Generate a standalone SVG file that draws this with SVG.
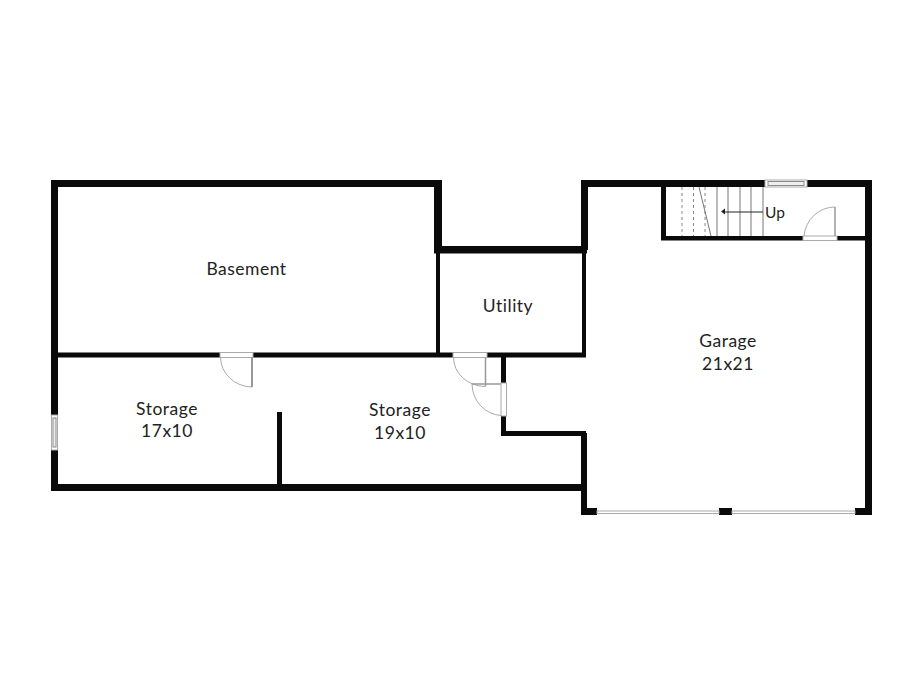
<svg xmlns="http://www.w3.org/2000/svg" width="920" height="700" viewBox="0 0 920 700">
<style>
.w{fill:#0a0a0a}
.l{font:17.500px Lato,"Liberation Sans",sans-serif;letter-spacing:.5px;fill:#222;text-anchor:middle}
.d{fill:none;stroke:#aaa;stroke-width:1}
.f{fill:#fff;stroke:#aaa;stroke-width:1}
.s{stroke:#777;stroke-width:1;fill:none}
.h{stroke:#888;stroke-width:1;stroke-dasharray:3 3;fill:none}
</style>
<rect width="920" height="700" fill="#fff"/>
<g id="walls">
<rect class="w" x="51" y="180" width="391" height="7"/>
<rect class="w" x="51" y="180" width="7" height="235"/>
<rect class="w" x="51" y="450" width="7" height="41"/>
<rect class="w" x="434" y="180" width="8" height="70"/>
<rect class="w" x="434" y="246" width="153" height="7.500"/>
<rect class="w" x="581" y="180" width="7" height="70"/>
<rect class="w" x="581" y="180" width="184" height="7"/>
<rect class="w" x="807" y="180" width="65" height="7"/>
<rect class="w" x="865" y="180" width="7" height="335"/>
<rect class="w" x="581" y="433" width="6" height="82"/>
<rect class="w" x="581" y="508" width="16" height="7"/>
<rect class="w" x="719" y="508" width="13" height="7"/>
<rect class="w" x="855" y="508" width="17" height="7"/>
<rect class="w" x="51" y="484" width="535" height="7"/>
<rect class="w" x="51" y="352.500" width="169" height="5"/>
<rect class="w" x="253" y="352.500" width="200" height="5"/>
<rect class="w" x="487" y="352.500" width="99" height="5"/>
<rect class="w" x="436" y="250" width="4" height="105"/>
<rect class="w" x="582" y="250" width="4" height="105"/>
<rect class="w" x="501" y="355" width="5" height="28"/>
<rect class="w" x="501" y="416" width="5" height="20"/>
<rect class="w" x="501" y="431" width="85" height="5"/>
<rect class="w" x="277" y="412" width="5" height="74"/>
<rect class="w" x="661" y="187" width="5" height="53"/>
<rect class="w" x="661" y="236" width="142" height="4.500"/>
<rect class="w" x="837" y="236" width="29" height="4.500"/>
</g>
<g id="windows">
<rect class="f" x="765" y="180" width="42" height="7"/>
<rect x="768" y="181.500" width="36" height="4" fill="#eee" stroke="#888"/>
<rect class="f" x="51.500" y="415" width="6" height="35"/>
<rect x="53" y="418" width="3" height="29" fill="#eee" stroke="#888"/>
<rect class="f" x="597" y="511" width="122" height="2.500"/>
<rect class="f" x="732" y="511" width="123" height="2.500"/>
</g>
<g id="doors">
<rect class="f" x="220" y="352.500" width="33" height="5"/>
<path class="d" d="M220.500 357.500A32 30 0 0 0 252 387"/>
<path d="M252 357.500V387" stroke="#999" stroke-width="2" fill="none"/>
<rect class="f" x="453" y="352.500" width="34" height="5"/>
<path class="d" d="M453.500 357.500A32 29 0 0 0 485 386.500"/>
<path d="M485.500 357.500V386.500M472 384H501" stroke="#999" stroke-width="1.500" fill="none"/>
<rect class="f" x="501" y="383" width="5.500" height="33"/>
<path class="d" d="M472 384A31 32 0 0 0 501 415.500"/>
<rect class="f" x="803" y="236" width="34" height="4.500"/>
<path class="d" d="M804 236A31 32 0 0 1 835 207"/>
<path d="M835 207V236" stroke="#999" stroke-width="1.500" fill="none"/>
</g>
<g id="stairs">
<path class="h" d="M682 187V236M693.500 187V236M705 187V236"/>
<path class="s" d="M699 187L711 236M717 187V236M728 187V236M740 187V236M751 187V236M763 187V236"/>
<path d="M763 212H724" stroke="#222" stroke-width="1" fill="none"/>
<path d="M721 211.500L725 208.500V214.500Z" fill="#222"/>
<text x="775" y="218" style="font:15.500px Lato,'Liberation Sans',sans-serif;fill:#222;text-anchor:middle">Up</text>
</g>
<g id="room-basement"><text class="l" x="246.500" y="275">Basement</text></g>
<g id="room-utility"><text class="l" x="508" y="311.500">Utility</text></g>
<g id="room-garage"><text class="l" x="728" y="347">Garage</text><text class="l" x="728" y="370">21x21</text></g>
<g id="room-storage-1"><text class="l" x="167" y="415">Storage</text><text class="l" x="167" y="437">17x10</text></g>
<g id="room-storage-2"><text class="l" x="400" y="416">Storage</text><text class="l" x="400" y="439">19x10</text></g>
</svg>
